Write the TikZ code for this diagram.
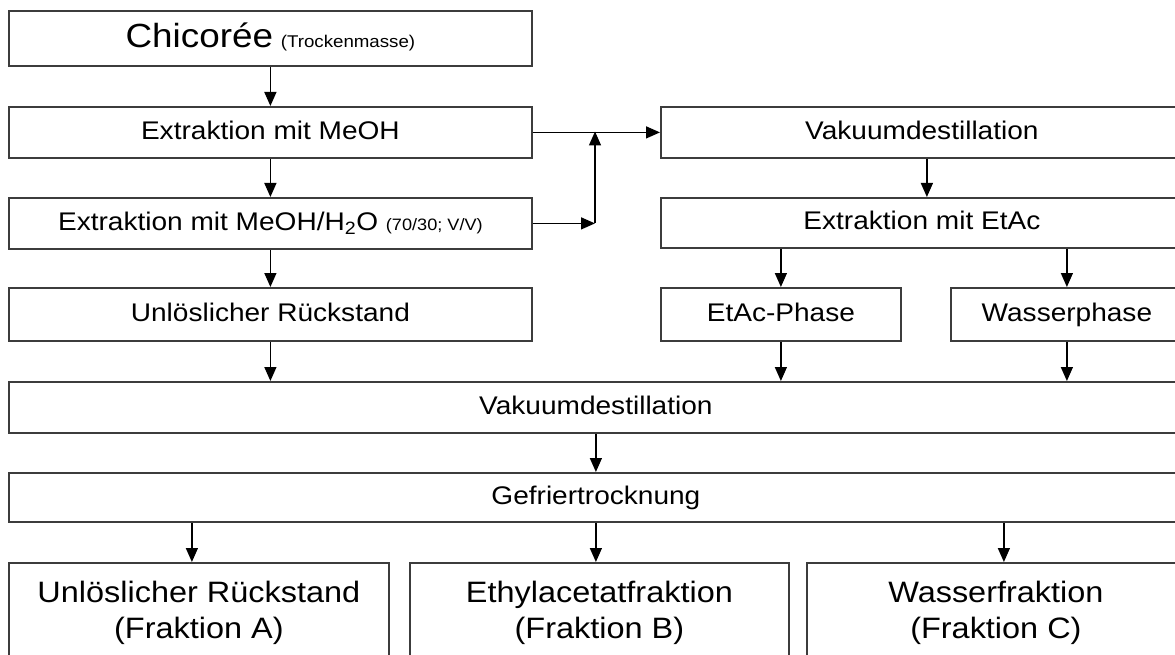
\documentclass[tikz,border=0pt]{standalone}
\usepackage{fontspec}
\setmainfont[FakeStretch=1.1]{Liberation Sans}
\usetikzlibrary{arrows.meta}
\definecolor{boxgray}{RGB}{60,60,60}
\begin{document}
\begin{tikzpicture}[x=1pt,y=-1pt,
  box/.style={draw=boxgray, line width=1.8pt, inner sep=0pt, anchor=north west,
    font=\fontsize{25.5}{30}\selectfont, text height=18.5pt, text depth=5pt},
  bigbox/.style={draw=boxgray, line width=1.8pt, inner sep=0pt, anchor=north west,
    align=center, font=\fontsize{29.5}{36}\selectfont},
  arr/.style={line width=1.4pt, -{Triangle[length=14pt,width=12pt]}}]
\useasboundingbox (0,0) rectangle (1175,655);

\node[box, minimum width=523pt, minimum height=55pt, text height=24pt, text depth=6pt] (chic) at (8,10)
  {{\fontsize{33.5}{38}\selectfont Chicorée} {\fontsize{17}{20}\selectfont (Trockenmasse)}};
\node[box, minimum width=523pt, minimum height=51pt] (meoh) at (8,106) {Extraktion mit MeOH};
\node[box, minimum width=523pt, minimum height=51pt] (h2o) at (8,197)
  {Extraktion mit MeOH/H\textsubscript{2}O {\fontsize{16.5}{18}\selectfont (70/30; V/V)}};
\node[box, minimum width=523pt, minimum height=53pt] (unl) at (8,287) {Unlöslicher Rückstand};

\node[box, minimum width=522pt, minimum height=51pt] (vak1) at (660,106) {Vakuumdestillation};
\node[box, minimum width=522pt, minimum height=50pt] (etac) at (660,197) {Extraktion mit EtAc};
\node[box, minimum width=240pt, minimum height=53pt] (ephase) at (660,287) {EtAc-Phase};
\node[box, minimum width=232pt, minimum height=53pt] (wphase) at (950,287) {Wasserphase};

\node[box, minimum width=1174pt, minimum height=51pt] (vak2) at (8,381) {Vakuumdestillation};
\node[box, minimum width=1174pt, minimum height=49pt] (gef) at (8,472) {Gefriertrocknung};

\node[bigbox, minimum width=380pt, minimum height=100pt] (fa) at (8,562)
  {Unlöslicher Rückstand\\(Fraktion A)};
\node[bigbox, minimum width=379pt, minimum height=100pt] (fb) at (409,562)
  {Ethylacetatfraktion\\(Fraktion B)};
\node[bigbox, minimum width=378pt, minimum height=100pt] (fc) at (806,562)
  {Wasserfraktion\\(Fraktion C)};

% left column
\draw[arr] (chic.south) -- (meoh.north);
\draw[arr] (meoh.south) -- (h2o.north);
\draw[arr] (h2o.south) -- (unl.north);
\draw[arr] (unl.south) -- (unl.south |- vak2.north);

% junction
\coordinate (J) at (595,131.5);
\coordinate (J2) at (h2o.east -| J);
\draw[arr] (meoh.east) -- (vak1.west);
\draw[arr] (h2o.east) -- (J2);
\draw[arr] (J2) -- (J);

% right column
\draw[arr] ([xshift=5pt]vak1.south) -- ([xshift=5pt]etac.north);
\draw[arr] (ephase.north |- etac.south) -- (ephase.north);
\draw[arr] (wphase.north |- etac.south) -- (wphase.north);
\draw[arr] (ephase.south) -- (ephase.south |- vak2.north);
\draw[arr] (wphase.south) -- (wphase.south |- vak2.north);

% lower part
\draw[arr] (vak2.south) -- (gef.north);
\draw[arr] ([xshift=-7pt]fa.north |- gef.south) -- ([xshift=-7pt]fa.north);
\draw[arr] ([xshift=-3.5pt]fb.north |- gef.south) -- ([xshift=-3.5pt]fb.north);
\draw[arr] ([xshift=8pt]fc.north |- gef.south) -- ([xshift=8pt]fc.north);
\end{tikzpicture}
\end{document}
